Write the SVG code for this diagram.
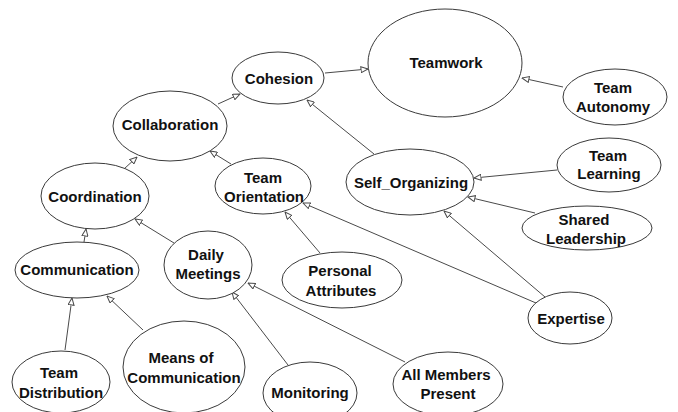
<svg xmlns="http://www.w3.org/2000/svg" width="678" height="412" viewBox="0 0 678 412">
  <style>
    .node ellipse { fill: #ffffff; stroke: #3a3a3a; stroke-width: 1; }
    .node text { font-family: "Liberation Sans", Arial, sans-serif; font-weight: bold; font-size: 15px; fill: #111111; text-anchor: middle; }
    .edges line { stroke: #4a4a4a; stroke-width: 1; marker-end: url(#tri); }
  </style>
  <defs>
    <marker id="tri" viewBox="0 0 8 7" refX="7.5" refY="3.5" markerWidth="8" markerHeight="7" markerUnits="userSpaceOnUse" orient="auto">
      <path d="M0.5,0.5 L7.5,3.5 L0.5,6.5 z" fill="#ffffff" stroke="#4a4a4a" stroke-width="1"/>
    </marker>
  </defs>
  <rect width="678" height="412" fill="#ffffff"/>

  <!-- connectors: each points from the part to the concept it feeds -->
  <g class="edges">
    <line x1="325" y1="73" x2="368" y2="69"/>
    <line x1="563" y1="87" x2="522" y2="78"/>
    <line x1="218" y1="104" x2="240" y2="94"/>
    <line x1="374" y1="154" x2="307" y2="100"/>
    <line x1="124" y1="169" x2="137" y2="157"/>
    <line x1="231" y1="164" x2="210" y2="151"/>
    <line x1="84" y1="242" x2="86" y2="229"/>
    <line x1="174" y1="243" x2="135" y2="219"/>
    <line x1="65" y1="350" x2="72" y2="298"/>
    <line x1="143" y1="330" x2="107" y2="296"/>
    <line x1="288" y1="365" x2="232" y2="292"/>
    <line x1="405" y1="362" x2="248" y2="283"/>
    <line x1="320" y1="253" x2="285" y2="212"/>
    <line x1="536" y1="303" x2="303" y2="203"/>
    <line x1="545" y1="297" x2="444" y2="211"/>
    <line x1="557" y1="170" x2="474" y2="178"/>
    <line x1="535" y1="213" x2="468" y2="197"/>
  </g>

  <g id="teamwork" class="node">
    <ellipse cx="445" cy="63" rx="77" ry="54"/>
    <text x="446" y="68">Teamwork</text>
  </g>
  <g id="cohesion" class="node">
    <ellipse cx="278" cy="78" rx="46" ry="26"/>
    <text x="279" y="84">Cohesion</text>
  </g>
  <g id="team-autonomy" class="node">
    <ellipse cx="615" cy="97" rx="52" ry="28"/>
    <text x="613" y="93">Team</text>
    <text x="613" y="112">Autonomy</text>
  </g>
  <g id="collaboration" class="node">
    <ellipse cx="170" cy="126" rx="57" ry="35"/>
    <text x="170" y="130">Collaboration</text>
  </g>
  <g id="coordination" class="node">
    <ellipse cx="95" cy="196" rx="54" ry="33"/>
    <text x="95" y="202">Coordination</text>
  </g>
  <g id="team-orientation" class="node">
    <ellipse cx="263" cy="186" rx="48" ry="28"/>
    <text x="263" y="183">Team</text>
    <text x="264" y="202">Orientation</text>
  </g>
  <g id="self-organizing" class="node">
    <ellipse cx="410" cy="182" rx="64" ry="33"/>
    <text x="411" y="188">Self_Organizing</text>
  </g>
  <g id="team-learning" class="node">
    <ellipse cx="609" cy="165" rx="52" ry="27"/>
    <text x="608" y="161">Team</text>
    <text x="609" y="179">Learning</text>
  </g>
  <g id="shared-leadership" class="node">
    <ellipse cx="587" cy="228" rx="65" ry="22"/>
    <text x="584" y="225">Shared</text>
    <text x="586" y="244">Leadership</text>
  </g>
  <g id="communication" class="node">
    <ellipse cx="77" cy="270" rx="62" ry="28"/>
    <text x="77" y="275">Communication</text>
  </g>
  <g id="daily-meetings" class="node">
    <ellipse cx="208" cy="265" rx="44" ry="34"/>
    <text x="206" y="260">Daily</text>
    <text x="208" y="279">Meetings</text>
  </g>
  <g id="personal-attributes" class="node">
    <ellipse cx="342" cy="280" rx="60" ry="28"/>
    <text x="340" y="276">Personal</text>
    <text x="341" y="296">Attributes</text>
  </g>
  <g id="expertise" class="node">
    <ellipse cx="570" cy="318" rx="42" ry="26"/>
    <text x="571" y="324">Expertise</text>
  </g>
  <g id="team-distribution" class="node">
    <ellipse cx="61" cy="382" rx="49" ry="31"/>
    <text x="59" y="378">Team</text>
    <text x="61" y="398">Distribution</text>
  </g>
  <g id="means-of-communication" class="node">
    <ellipse cx="184" cy="367" rx="61" ry="46"/>
    <text x="181" y="363">Means of</text>
    <text x="184" y="383">Communication</text>
  </g>
  <g id="monitoring" class="node">
    <ellipse cx="310" cy="393" rx="47" ry="31"/>
    <text x="310" y="398">Monitoring</text>
  </g>
  <g id="all-members-present" class="node">
    <ellipse cx="448" cy="384" rx="55" ry="32"/>
    <text x="446" y="380">All Members</text>
    <text x="448" y="399">Present</text>
  </g>
</svg>
